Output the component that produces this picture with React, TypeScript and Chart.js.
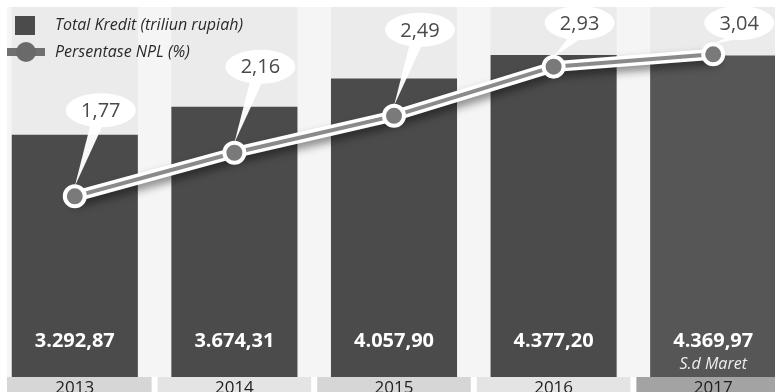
import React, { useEffect, useRef } from "react";
import { Chart, registerables } from "chart.js";

Chart.register(...registerables);

const years = ["2013", "2014", "2015", "2016", "2017"];
const totalKredit = [3292.87, 3674.31, 4057.9, 4377.2, 4369.97];
const nplPercent = [1.77, 2.16, 2.49, 2.93, 3.04];
const barNotes = ["", "", "", "", "S.d Maret"];
const legendLabels = ["Total Kredit (triliun rupiah)", "Persentase NPL (%)"];

const OX = 5; // canvas is shifted 5px left of the page
const FONT = "'Open Sans', 'Noto Sans', sans-serif";

function fmtID(v: number): string {
  const [i, d] = v.toFixed(2).split(".");
  const int = i.replace(/\B(?=(\d{3})+(?!\d))/g, ".");
  return int + "," + d;
}

const decoPlugin = {
  id: "deco",
  beforeDraw(chart: any) {
    const { ctx, chartArea, width } = chart;
    ctx.save();
    ctx.fillStyle = "#ffffff";
    ctx.fillRect(0, 0, width, chart.height);
    const top = 7;
    const bottom = chartArea.bottom;
    ctx.fillStyle = "#ebebeb";
    ctx.fillRect(7 + OX, top, width - 7 - OX, bottom - top);
    const meta = chart.getDatasetMeta(0);
    const els = meta.data;
    ctx.fillStyle = "#f5f5f5";
    for (let i = 0; i < els.length - 1; i++) {
      const a = els[i];
      const b = els[i + 1];
      const x0 = a.x + a.width / 2;
      const x1 = b.x - b.width / 2;
      ctx.fillRect(x0, top, x1 - x0, bottom - top);
    }
    if (els.length) {
      const f = els[0];
      ctx.fillRect(7 + OX, top, f.x - f.width / 2 - 7 - OX, bottom - top);
    }
    const xs = chart.scales.x;
    const catW = (chartArea.right - chartArea.left) / years.length;
    const bandCols = ["#d6d6d6", "#e4e4e4", "#d6d6d6", "#e4e4e4", "#a3a3a3"];
    for (let i = 0; i < years.length; i++) {
      const cx = xs.getPixelForValue(i);
      let x0 = cx - catW / 2 + 3;
      const x1 = cx + catW / 2 - 3;
      if (x0 < 7 + OX) x0 = 7 + OX;
      ctx.fillStyle = bandCols[i];
      ctx.fillRect(x0, bottom, x1 - x0, chart.height - bottom);
    }
    ctx.restore();
  },
  beforeDatasetDraw(chart: any, args: any) {
    if (args.index === 1) {
      const ctx = chart.ctx;
      ctx.save();
      ctx.shadowColor = "rgba(0,0,0,0.45)";
      ctx.shadowBlur = 8;
      ctx.shadowOffsetY = 5;
      ctx.shadowOffsetX = 2;
    }
  },
  afterDatasetDraw(chart: any, args: any) {
    if (args.index === 1) chart.ctx.restore();
  },
  afterDatasetsDraw(chart: any) {
    const { ctx, chartArea } = chart;
    ctx.save();
    const bars = chart.getDatasetMeta(0).data;
    ctx.textAlign = "center";
    ctx.textBaseline = "middle";
    bars.forEach((el: any, i: number) => {
      ctx.fillStyle = "#ffffff";
      ctx.font = `bold 20px ${FONT}`;
      ctx.fillText(fmtID(totalKredit[i]), el.x, 341);
      if (barNotes[i]) {
        ctx.fillStyle = "#eeeeee";
        ctx.font = `italic 16px ${FONT}`;
        ctx.fillText(barNotes[i], el.x, 364);
      }
    });
    ctx.fillStyle = "#1e1e1e";
    ctx.font = `17px ${FONT}`;
    ctx.textBaseline = "alphabetic";
    years.forEach((y, i) => {
      ctx.fillText(y, chart.scales.x.getPixelForValue(i), chartArea.bottom + 16);
    });
    const pts = chart.getDatasetMeta(2).data;
    pts.forEach((p: any, i: number) => {
      const cx = p.x + 26;
      const cy = Math.max(p.y - 86, 23);
      const rx = 35;
      const ry = 17;
      ctx.fillStyle = "rgba(255,255,255,0.96)";
      ctx.beginPath();
      ctx.moveTo(cx - 10, cy + ry - 4);
      ctx.lineTo(p.x, p.y - 10);
      ctx.lineTo(cx + 2, cy + ry - 2);
      ctx.closePath();
      ctx.fill();
      ctx.beginPath();
      ctx.ellipse(cx, cy, rx, ry, 0, 0, Math.PI * 2);
      ctx.fill();
      ctx.fillStyle = "#4a4a4a";
      ctx.font = `20px ${FONT}`;
      ctx.textAlign = "center";
      ctx.textBaseline = "middle";
      ctx.fillText(nplPercent[i].toFixed(2).replace(".", ","), cx, cy + 1);
    });
    ctx.restore();
  },
  afterDraw(chart: any) {
    const ctx = chart.ctx;
    ctx.save();
    ctx.fillStyle = "#4b4b4b";
    ctx.fillRect(15 + OX, 16, 20, 19);
    ctx.strokeStyle = "#707070";
    ctx.lineWidth = 8;
    ctx.beginPath();
    ctx.moveTo(7 + OX, 52);
    ctx.lineTo(45 + OX, 52);
    ctx.stroke();
    ctx.fillStyle = "#6a6a6a";
    ctx.beginPath();
    ctx.arc(26 + OX, 52, 10, 0, Math.PI * 2);
    ctx.fill();
    ctx.fillStyle = "#2a2a2a";
    ctx.font = `italic 16px ${FONT}`;
    ctx.textAlign = "left";
    ctx.textBaseline = "middle";
    ctx.fillText(legendLabels[0], 55 + OX, 25);
    ctx.fillText(legendLabels[1], 55 + OX, 52);
    ctx.restore();
  },
};

export default function App() {
  const ref = useRef<HTMLCanvasElement | null>(null);
  useEffect(() => {
    document.body.style.margin = "0";
    const canvas = ref.current;
    if (!canvas) return;
    const chart = new Chart(canvas, {
      type: "bar",
      data: {
        labels: years,
        datasets: [
          {
            type: "bar",
            label: legendLabels[0],
            data: totalKredit,
            yAxisID: "y",
            backgroundColor: ["#4b4b4b", "#4b4b4b", "#4b4b4b", "#4b4b4b", "#565656"],
            barPercentage: 0.79,
            categoryPercentage: 1,
            order: 3,
          },
          {
            type: "line",
            label: "outline",
            data: nplPercent,
            yAxisID: "y1",
            borderColor: "#ffffff",
            borderWidth: 11,
            borderJoinStyle: "round",
            borderCapStyle: "round",
            pointRadius: 0,
            tension: 0,
            clip: false,
            order: 2,
          },
          {
            type: "line",
            label: legendLabels[1],
            data: nplPercent,
            yAxisID: "y1",
            borderColor: "#8a8a8a",
            borderWidth: 4,
            pointRadius: 10,
            pointBorderWidth: 4,
            pointBackgroundColor: "#7a7a7a",
            pointBorderColor: "#ffffff",
            tension: 0,
            clip: false,
            order: 1,
          },
        ] as any,
      },
      options: {
        responsive: false,
        animation: false,
        devicePixelRatio: 1,
        events: [],
        layout: { autoPadding: false, padding: { left: 0, right: 0, top: 0, bottom: 15 } },
        plugins: { legend: { display: false }, tooltip: { enabled: false } },
        scales: {
          x: { display: false, offset: true, grid: { display: false } },
          y: { display: false, min: 0, max: 5125 },
          y1: { display: false, min: 0.154, max: 3.526, position: "right" },
        },
      } as any,
      plugins: [decoPlugin],
    });
    return () => chart.destroy();
  }, []);
  return (
    <div style={{ position: "relative", width: 775, height: 392, overflow: "hidden" }}>
      <canvas
        ref={ref}
        width={798}
        height={392}
        style={{ position: "absolute", left: -OX, top: 0, width: 798, height: 392 }}
      />
    </div>
  );
}
